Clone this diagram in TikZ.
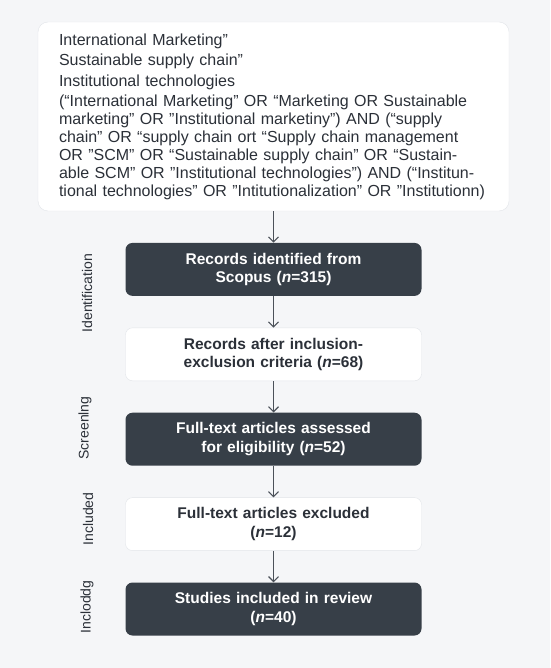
\documentclass[tikz,border=0pt]{standalone}
\usepackage{fontspec}
\setmainfont{Liberation Sans}
\usetikzlibrary{positioning}
\usetikzlibrary{arrows.meta}
\definecolor{slate}{HTML}{373F48}
\definecolor{pagebg}{HTML}{F5F6F8}
\definecolor{edge}{HTML}{E2E5E9}
\definecolor{ink}{HTML}{2B3038}
\definecolor{arrowgray}{HTML}{4B5159}
\tikzstyle{query} = [rectangle, draw=edge, fill=white, rounded corners=10pt,
    minimum width=471pt, minimum height=189pt, text width=429pt,
    inner xsep=21pt, align=left, text=ink,
    font=\fontsize{16}{17.9}\selectfont]
\tikzstyle{darkbox} = [rectangle, fill=slate, rounded corners=7pt,
    minimum width=296pt, minimum height=53pt, text width=280pt,
    align=center, text=white, font=\bfseries\fontsize{15.5}{18.5}\selectfont]
\tikzstyle{lightbox} = [darkbox, fill=white, draw=edge, text=ink]
\tikzstyle{phase} = [rotate=90, text=ink, font=\fontsize{14}{16}\selectfont]
\tikzstyle{line} = [draw=arrowgray, line width=1.1pt,
    -{Straight Barb[length=5pt,width=10pt]}]

\begin{document}
\begin{tikzpicture}[node distance = 31.5pt]
    \fill[pagebg] (0,0) rectangle (550pt,-668pt);
    \useasboundingbox (0,0) rectangle (550pt,-668pt);
    % Place nodes
    \node [query] (search) at (273.5pt,-116.5pt) {International Marketing”\\[2.6pt]
        Sustainable supply chain”\\[2.6pt]
        Institutional technologies\\[2.6pt]
        (“International Marketing” OR “Marketing OR Sustainable\\
        marketing” OR "Institutional marketiny") AND (“supply\\
        chain” OR “supply chain ort “Supply chain management\\
        OR "SCM" OR “Sustainable supply chain” OR “Sustain-\\
        able SCM” OR ”Institutional technologies”) AND (“Institun-\\
        tional technologies” OR ”Intitutionalization” OR ”Institutionn)};
    \node [darkbox, below=of search] (scopus) {Records identified from\\Scopus ({\itshape n}=315)};
    \node [lightbox, below=of scopus] (criteria) {Records after inclusion-\\exclusion criteria ({\itshape n}=68)};
    \node [darkbox, below=of criteria] (assessed) {Full-text articles assessed\\for eligibility ({\itshape n}=52)};
    \node [lightbox, below=of assessed] (excluded) {Full-text articles excluded\\({\itshape n}=12)};
    \node [darkbox, below=of excluded] (review) {Studies included in review\\({\itshape n}=40)};
    \node [phase] (ident) at (87pt,-293pt) {Identification};
    \node [phase] (screen) at (85pt,-428pt) {Screenlng};
    \node [phase] (incl) at (88pt,-519pt) {Included};
    \node [phase] (incl2) at (87pt,-607pt) {Incloddg};
    % Draw edges
    \path [line] (search) -- (scopus);
    \path [line] (scopus) -- (criteria);
    \path [line] (criteria) -- (assessed);
    \path [line] (assessed) -- (excluded);
    \path [line] (excluded) -- (review);
\end{tikzpicture}
\end{document}
